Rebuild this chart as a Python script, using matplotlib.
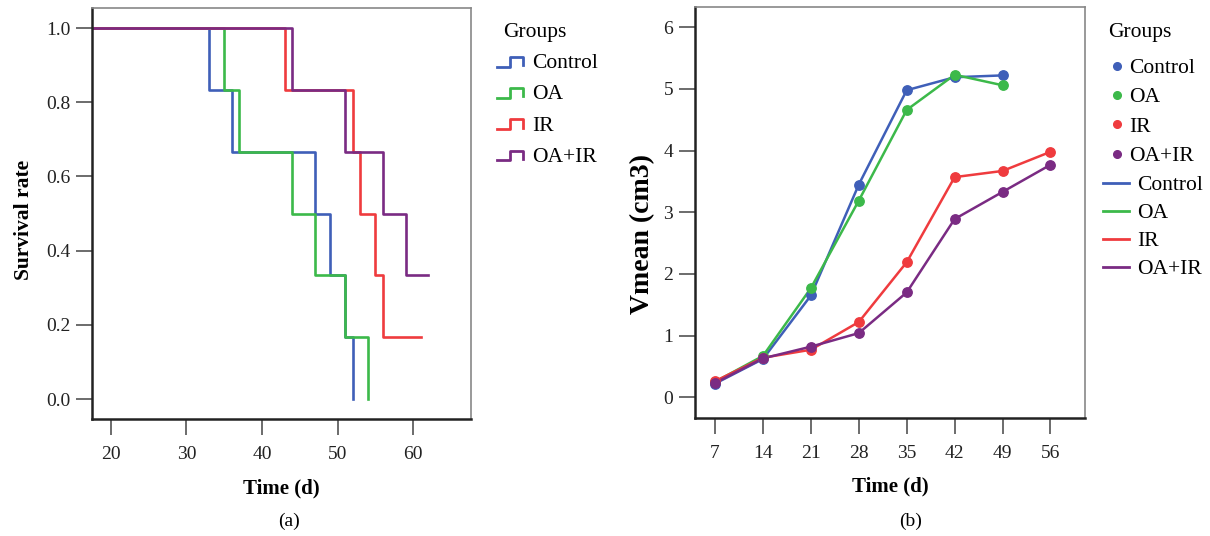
import matplotlib
matplotlib.use("Agg")
import matplotlib.pyplot as plt
from matplotlib.lines import Line2D
from matplotlib.legend_handler import HandlerBase

plt.rcParams['font.family'] = ['Liberation Serif', 'DejaVu Serif']
plt.rcParams['font.size'] = 14

# ---- data: survival (panel a) ----
groups = ["Control", "OA", "IR", "OA+IR"]
colors = ["#3f5fb8", "#3cb94a", "#ef3b3e", "#7a2b83"]
n_animals = 6
death_times = {
    "Control": [33, 36, 47, 49, 51, 52],
    "OA": [35, 37, 44, 47, 51, 54],
    "IR": [43, 52, 53, 55, 56],
    "OA+IR": [44, 51, 56, 59],
}
censor_time = {"Control": None, "OA": None, "IR": 61, "OA+IR": 62}

# ---- data: tumour volume (panel b) ----
days = [7, 14, 21, 28, 35, 42, 49, 56]
vmean = {
    "Control": [0.22, 0.62, 1.65, 3.45, 4.98, 5.19, 5.22],
    "OA": [0.25, 0.67, 1.77, 3.19, 4.66, 5.23, 5.06],
    "IR": [0.26, 0.64, 0.77, 1.22, 2.19, 3.57, 3.67, 3.98],
    "OA+IR": [0.23, 0.63, 0.82, 1.04, 1.70, 2.89, 3.33, 3.77],
}

W, H = 1210, 536


def px(x, y):
    # pixel position (from top-left) -> figure fraction
    return (x / W, 1 - y / H)


class StepHandler(HandlerBase):
    # little step-shaped legend key like the SPSS output
    def create_artists(self, legend, orig_handle, xdescent, ydescent,
                       width, height, fontsize, trans):
        w, h = width, height
        xs = [-xdescent, 0.5 * w, 0.5 * w, 0.97 * w, 0.97 * w]
        ys = [0.1 * h, 0.1 * h, 0.75 * h, 0.75 * h, 0.2 * h]
        ln = Line2D(xs, ys, color=orig_handle.get_color(), lw=2.0)
        ln.set_transform(trans)
        return [ln]


def style_axes(ax):
    for s in ['left', 'bottom']:
        ax.spines[s].set_color('#222222')
        ax.spines[s].set_linewidth(1.8)
    for s in ['top', 'right']:
        ax.spines[s].set_color('#888888')
        ax.spines[s].set_linewidth(1.2)
    ax.tick_params(direction='out', length=11.5, width=1.1, color='#444444',
                   labelsize=14, labelcolor='#222222')
    ax.tick_params(axis='x', pad=8)
    ax.tick_params(axis='y', pad=4)


fig = plt.figure(figsize=(W / 100, H / 100), dpi=100)
leg_kw = dict(loc='upper left', bbox_transform=fig.transFigure, frameon=False,
              borderpad=0, borderaxespad=0, fontsize=15.5)

# ---------- (a) ----------
ax1 = fig.add_axes([0.076, 0.218, 0.313, 0.767])
handles = []
for g, c in zip(groups, colors):
    t = death_times[g]
    xs = [0] + t
    ys = [1.0] + [1 - (k + 1) / n_animals for k in range(len(t))]
    if censor_time[g] is not None:
        xs.append(censor_time[g])
        ys.append(ys[-1])
    line, = ax1.step(xs, ys, where='post', color=c, lw=1.9, label=g)
    handles.append(line)
ax1.set_xlim(17.5, 67.6)
ax1.set_ylim(-0.054, 1.054)
ax1.set_xticks([20, 30, 40, 50, 60])
ax1.set_yticks([0.0, 0.2, 0.4, 0.6, 0.8, 1.0])
ax1.set_yticklabels(["0.0", "0.2", "0.4", "0.6", "0.8", "1.0"])
style_axes(ax1)
ax1.set_xlabel("Time (d)", fontweight='bold', fontsize=15, labelpad=11)
ax1.set_ylabel("Survival rate", fontweight='bold', fontsize=15.5)
ax1.yaxis.set_label_coords(-0.152, 0.484)
fig.text(*px(503, 32), "Groups", fontsize=15.5, va='center', ha='left')
ax1.legend(handles=handles, bbox_to_anchor=px(497, 53),
           labelspacing=0.52, handlelength=1.25, handletextpad=0.37,
           handler_map={Line2D: StepHandler()}, **leg_kw)
fig.text(*px(289, 521), "(a)", ha='center', va='center', fontsize=14)

# ---------- (b) ----------
ax2 = fig.add_axes([0.574, 0.221, 0.323, 0.766])
pt_handles, ln_handles = [], []
for g, c in zip(groups, colors):
    v = vmean[g]
    d = days[:len(v)]
    ax2.plot(d, v, color=c, lw=1.8)
    ax2.scatter(d, v, color=c, s=46, zorder=3)
    pt_handles.append(Line2D([], [], ls='none', marker='o', color=c,
                             markersize=5.5, label=g))
    ln_handles.append(Line2D([], [], color=c, lw=2.0, label=g))
ax2.set_xlim(4, 61.1)
ax2.set_ylim(-0.33, 6.33)
ax2.set_xticks(days)
ax2.set_yticks([0, 1, 2, 3, 4, 5, 6])
style_axes(ax2)
ax2.set_xlabel("Time (d)", fontweight='bold', fontsize=15, labelpad=11)
ax2.set_ylabel("Vmean (cm3)", fontweight='bold', fontsize=20)
ax2.yaxis.set_label_coords(-0.102, 0.448)
fig.text(*px(1108, 32), "Groups", fontsize=15.5, va='center', ha='left')
leg_pts = ax2.legend(handles=pt_handles, bbox_to_anchor=px(1108, 58),
                     labelspacing=0.43, handlelength=0.8, handletextpad=0.17,
                     **leg_kw)
ax2.add_artist(leg_pts)
ax2.legend(handles=ln_handles, bbox_to_anchor=px(1103, 175),
           labelspacing=0.37, handlelength=1.2, handletextpad=0.37, **leg_kw)
fig.text(*px(911, 521), "(b)", ha='center', va='center', fontsize=14)

fig.savefig("out.png", dpi=100)
